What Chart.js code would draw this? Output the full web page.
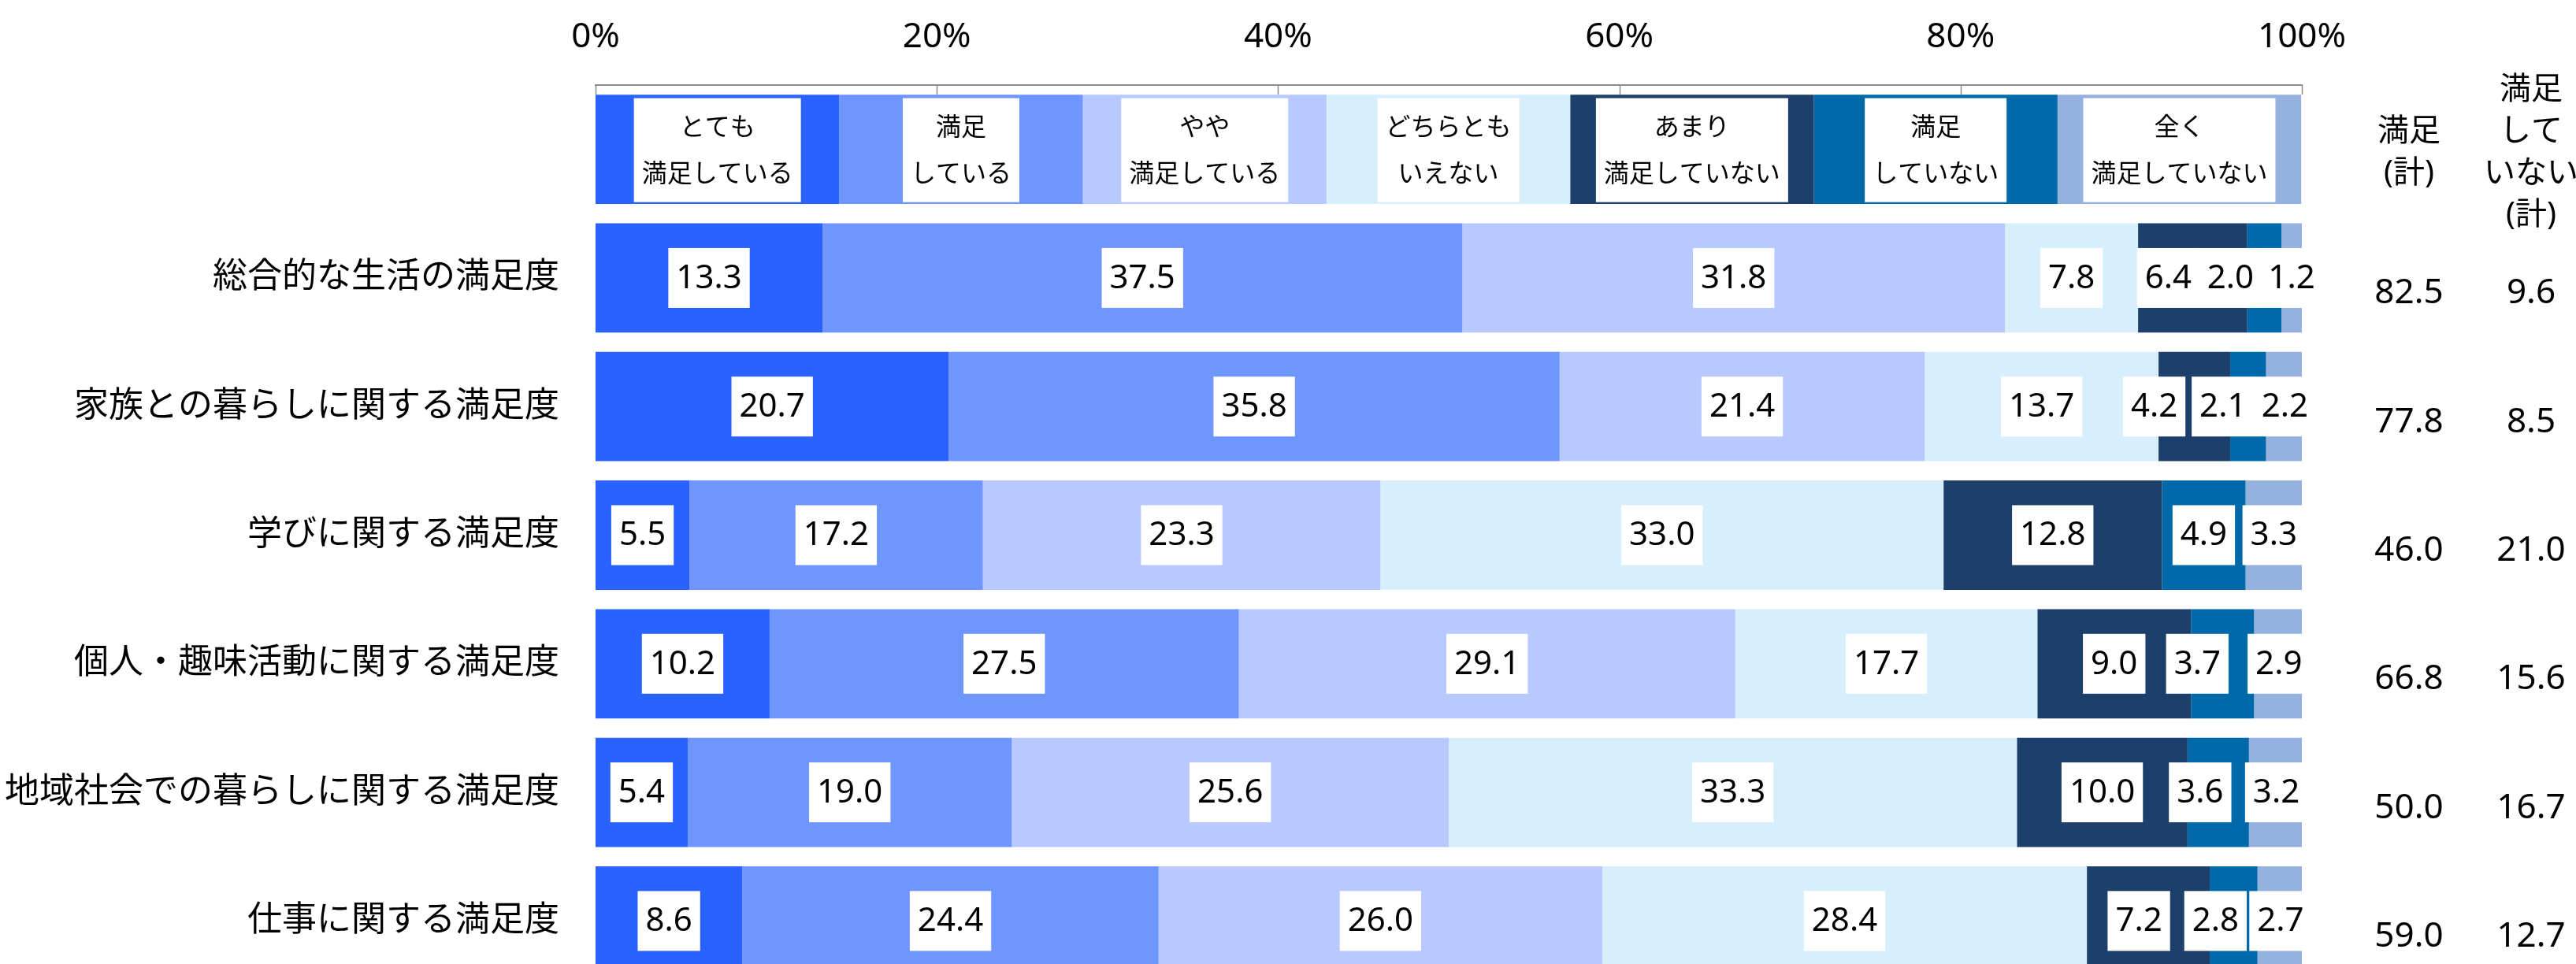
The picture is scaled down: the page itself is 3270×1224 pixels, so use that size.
<!DOCTYPE html>
<html lang="ja">
<head>
<meta charset="utf-8">
<title>満足度</title>
<script src="https://cdn.jsdelivr.net/npm/chart.js@4.4.1/dist/chart.umd.min.js"></script>
<style>
  html, body { margin: 0; padding: 0; background: #fff; overflow: hidden; }
  #wrap { width: 3270px; height: 1224px; overflow: hidden; }
  canvas { display: block; }
</style>
</head>
<body>
<div id="wrap"><canvas id="satChart" width="3270" height="1260"></canvas></div>
<script>
// items (rows, top to bottom)
const categories = [
    '総合的な生活の満足度',
    '家族との暮らしに関する満足度',
    '学びに関する満足度',
    '個人・趣味活動に関する満足度',
    '地域社会での暮らしに関する満足度',
    '仕事に関する満足度'
];

// answers, in %
const verySatisfied   = [13.3, 20.7, 5.5, 10.2, 5.4, 8.6];
const satisfied       = [37.5, 35.8, 17.2, 27.5, 19.0, 24.4];
const slightlySat     = [31.8, 21.4, 23.3, 29.1, 25.6, 26.0];
const neither         = [7.8, 13.7, 33.0, 17.7, 33.3, 28.4];
const notVery         = [6.4, 4.2, 12.8, 9.0, 10.0, 7.2];
const notSatisfied    = [2.0, 2.1, 4.9, 3.7, 3.6, 2.8];
const notAtAll        = [1.2, 2.2, 3.3, 2.9, 3.2, 2.7];

// totals shown on the right
const satTotal  = [82.5, 77.8, 46.0, 66.8, 50.0, 59.0];
const dissTotal = [9.6, 8.5, 21.0, 15.6, 16.7, 12.7];

// key row on top: seven equal blocks
const keyShare = 14.28;

const seriesNames = [
    ['とても', '満足している'],
    ['満足', 'している'],
    ['やや', '満足している'],
    ['どちらとも', 'いえない'],
    ['あまり', '満足していない'],
    ['満足', 'していない'],
    ['全く', '満足していない']
];
const xTicks = [0, 20, 40, 60, 80, 100];

const colors = ['#2a62ff', '#6f95ff', '#b8c9ff', '#d7eefc', '#1d3f6b', '#0069aa', '#95b1df'];

// small sideways shifts (px) for crowded labels
const nudgeNotVery = [-31, -51, 0, 0, 0, -12];
const nudgeNotSat  = [-43, -32, 0, -32, -23, -23];

const FONT = '"Noto Sans", "Noto Sans CJK JP", sans-serif';

const series = [verySatisfied, satisfied, slightlySat, neither, notVery, notSatisfied, notAtAll];

const data = {
    labels: [''].concat(categories),
    datasets: series.map(function (vals, i) {
        return {
            label: seriesNames[i].join(''),
            data: [keyShare].concat(vals),
            backgroundColor: colors[i],
            borderWidth: 0,
            barPercentage: 0.85,
            categoryPercentage: 1.0
        };
    })
};

const labelPlugin = {
    id: 'segmentLabels',
    afterDatasetsDraw(chart) {
        const ctx = chart.ctx;
        ctx.save();
        ctx.textAlign = 'center';
        ctx.textBaseline = 'middle';
        chart.data.datasets.forEach(function (ds, i) {
            const meta = chart.getDatasetMeta(i);
            meta.data.forEach(function (bar, j) {
                const p = bar.getProps(['x', 'y', 'base'], true);
                let cx = (p.x + p.base) / 2;
                if (j === 0) {
                    ctx.font = '32px ' + FONT;
                    const lines = seriesNames[i];
                    const w = Math.max.apply(null, lines.map(t => ctx.measureText(t).width)) + 20;
                    ctx.fillStyle = '#fff';
                    ctx.fillRect(cx - w / 2, p.y - 65, w, 132);
                    ctx.fillStyle = '#000';
                    ctx.fillText(lines[0], cx, p.y - 27);
                    ctx.fillText(lines[1], cx, p.y + 32);
                    return;
                }
                if (i === 4) cx += nudgeNotVery[j - 1];
                if (i === 5) cx += nudgeNotSat[j - 1];
                const txt = ds.data[j].toFixed(1);
                ctx.font = '42px ' + FONT;
                const w = ctx.measureText(txt).width + 20;
                ctx.fillStyle = '#fff';
                ctx.fillRect(cx - w / 2, p.y - 38, w, 76);
                ctx.fillStyle = '#000';
                ctx.fillText(txt, cx, p.y + 1);
            });
        });
        ctx.restore();
    },
    afterDraw(chart) {
        const ctx = chart.ctx;
        const area = chart.chartArea;
        const xs = chart.scales.x;
        const ys = chart.scales.y;
        ctx.save();

        // tick marks hanging under the top axis
        ctx.strokeStyle = '#8c8c8c';
        ctx.lineWidth = 1.5;
        xTicks.forEach(function (v) {
            const x = Math.round(xs.getPixelForValue(v)) + 0.5;
            ctx.beginPath();
            ctx.moveTo(x, area.top);
            ctx.lineTo(x, area.top + 12);
            ctx.stroke();
        });

        const col1 = area.right + 136;
        const col2 = area.right + 291;
        ctx.fillStyle = '#000';
        ctx.textAlign = 'center';
        ctx.textBaseline = 'middle';

        // column headers
        const hy = ys.getPixelForValue(0) + 4;
        ctx.font = '40px ' + FONT;
        ['満足', '(計)'].forEach((t, k) => ctx.fillText(t, col1, hy - 26 + k * 53));
        ['満足', 'して', 'いない', '(計)'].forEach((t, k) => ctx.fillText(t, col2, hy - 79 + k * 53));

        // totals
        ctx.font = '44px ' + FONT;
        categories.forEach(function (c, k) {
            const y = ys.getPixelForValue(k + 1) + 20;
            ctx.fillText(satTotal[k].toFixed(1), col1, y);
            ctx.fillText(dissTotal[k].toFixed(1), col2, y);
        });
        ctx.restore();
    }
};

const config = {
    type: 'bar',
    data: data,
    options: {
        indexAxis: 'y',
        responsive: false,
        animation: false,
        layout: { padding: { left: 0, right: 348, top: 0, bottom: 9 } },
        plugins: {
            legend: { display: false },
            tooltip: { enabled: false }
        },
        scales: {
            x: {
                position: 'top',
                stacked: true,
                min: 0,
                max: 100,
                afterBuildTicks: function (s) { s.ticks = xTicks.map(v => ({ value: v })); },
                afterFit: function (s) {
                    s.height = 108;
                    s.paddingLeft = 0;
                    s.paddingRight = 0;
                },
                ticks: {
                    callback: v => v + '%',
                    color: '#000',
                    font: { family: FONT, size: 44 },
                    padding: 34,
                    maxRotation: 0,
                    autoSkip: false
                },
                grid: { display: false, drawTicks: false },
                border: { display: true, color: '#8c8c8c', width: 2 }
            },
            y: {
                stacked: true,
                afterFit: function (s) {
                    s.width = 756;
                    s.paddingTop = 0;
                    s.paddingBottom = 0;
                },
                ticks: {
                    color: '#000',
                    font: { family: FONT, size: 44 },
                    padding: 46
                },
                grid: { display: false, drawTicks: false },
                border: { display: false }
            }
        }
    },
    plugins: [labelPlugin]
};

const myChart = new Chart(document.getElementById('satChart'), config);
</script>
</body>
</html>
